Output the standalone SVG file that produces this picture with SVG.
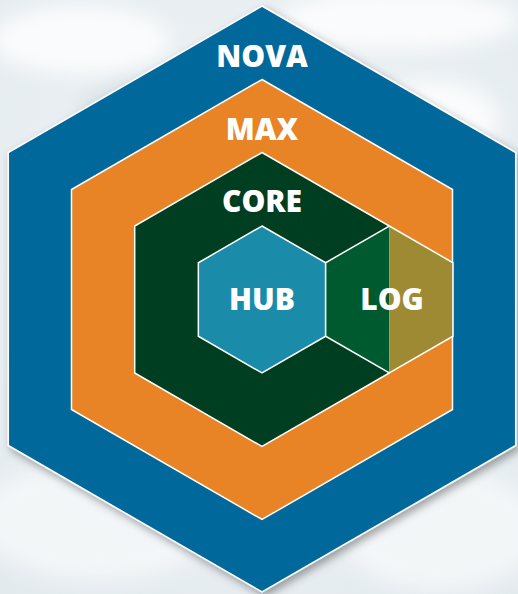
<svg xmlns="http://www.w3.org/2000/svg" width="518" height="594" viewBox="0 0 518 594">
  <defs>
    <radialGradient id="bg" cx="0.5" cy="0.4" r="0.8">
      <stop offset="0" stop-color="#eef3f5"/>
      <stop offset="1" stop-color="#e3eaee"/>
    </radialGradient>
    <filter id="blur" x="-20%" y="-20%" width="140%" height="140%">
      <feGaussianBlur stdDeviation="10"/>
    </filter>
    <filter id="shadow" x="-10%" y="-10%" width="125%" height="125%">
      <feDropShadow dx="3" dy="4" stdDeviation="4" flood-color="#000" flood-opacity="0.35"/>
    </filter>
    <style>
      .hex { stroke: #ffffff; stroke-width: 1.5; stroke-linejoin: miter; }
      .lbl { font-family: "Open Sans", "Liberation Sans", sans-serif; font-weight: 800; font-size: 30px; fill: #ffffff; text-anchor: middle; }
    </style>
  </defs>

  <rect x="0" y="0" width="518" height="594" fill="url(#bg)"/>
  <g filter="url(#blur)" opacity="0.8">
    <ellipse cx="80" cy="40" rx="90" ry="35" fill="#ffffff"/>
    <ellipse cx="400" cy="20" rx="120" ry="30" fill="#ffffff"/>
    <ellipse cx="200" cy="110" rx="120" ry="40" fill="#d7e0e5"/>
    <ellipse cx="430" cy="120" rx="70" ry="40" fill="#ffffff"/>
    <ellipse cx="100" cy="520" rx="120" ry="60" fill="#f7f9fa"/>
    <ellipse cx="440" cy="530" rx="100" ry="60" fill="#f7f9fa"/>
  </g>

  <g id="nova">
    <polygon class="hex" filter="url(#shadow)" fill="#05679a" points="262,6 515.7,152.5 515.7,445.5 262,592 8.3,445.5 8.3,152.5"/>
    <text class="lbl" x="262" y="67">NOVA</text>
  </g>

  <g id="max">
    <polygon class="hex" fill="#e88425" points="262,79.5 452.5,189.5 452.5,409.5 262,519.5 71.5,409.5 71.5,189.5"/>
    <text class="lbl" x="262" y="140">MAX</text>
  </g>

  <g id="core">
    <polygon class="hex" fill="#003e22" points="262,152.5 389.3,226 389.3,373 262,446.5 134.7,373 134.7,226"/>
    <text class="lbl" x="262" y="212">CORE</text>
  </g>

  <g id="hub">
    <polygon class="hex" fill="#1a8ba8" points="262,226 325.65,262.75 325.65,336.25 262,373 198.35,336.25 198.35,262.75"/>
    <text class="lbl" x="262" y="310">HUB</text>
  </g>

  <g id="log">
    <polygon fill="#005a2f" points="389.3,226 389.3,373 325.65,336.25 325.65,262.75"/>
    <polygon fill="#9d8a33" points="389.3,226 452.95,262.75 452.95,336.25 389.3,373"/>
    <polygon class="hex" fill="none" points="389.3,226 452.95,262.75 452.95,336.25 389.3,373 325.65,336.25 325.65,262.75"/>
    <text class="lbl" x="392" y="310">LOG</text>
  </g>

  <g id="connectors"/>
</svg>
